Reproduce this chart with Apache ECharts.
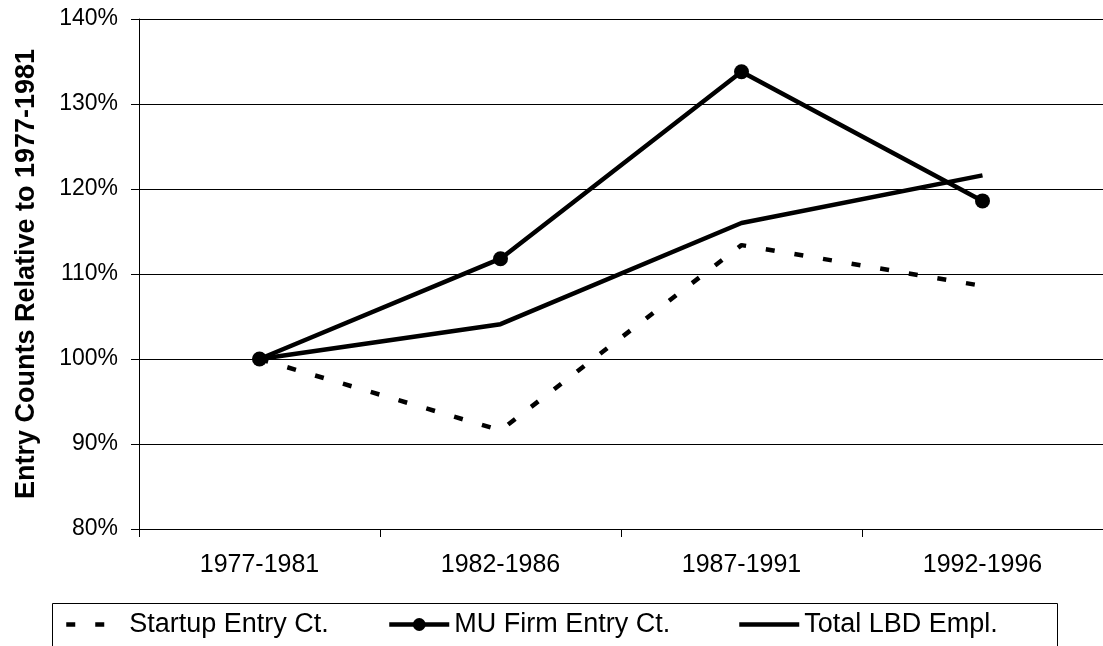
<!DOCTYPE html>
<html lang="en">
<head>
    <meta charset="UTF-8">
    <title>entry counts</title>
    <script src="https://cdn.jsdelivr.net/npm/echarts/dist/echarts.min.js"></script>
    <style>
        html, body { margin: 0; padding: 0; background: #fff; }
    </style>
</head>
<body>
    <div id="main" style="width: 1103px;height:646px;"></div>
    <script type="text/javascript">
        // data (percent of 1977-1981)
        var periods = ['1977-1981', '1982-1986', '1987-1991', '1992-1996'];
        var startupEntry = [100, 91.6, 113.4, 108.6];
        var muFirmEntry = [100, 111.8, 133.8, 118.6];
        var totalLbdEmpl = [100, 104.1, 116.0, 121.6];

        var font = "'Liberation Sans', Arial, sans-serif";

        var myChart = echarts.init(document.getElementById('main'));

        // one legend per item so each sits where the original puts it
        function legendAt(name, left, width, hideSymbol) {
            var item = { name: name };
            if (hideSymbol) {
                item.itemStyle = { opacity: 0 };
            }
            return {
                data: [item],
                left: left,
                top: 611,
                itemWidth: width,
                itemHeight: 16,
                padding: 0,
                lineStyle: { width: 4.5 },
                textStyle: {
                    fontFamily: font,
                    fontSize: 27,
                    color: '#000'
                }
            };
        }

        var option = {
            backgroundColor: '#fff',
            animation: false,
            grid: {
                left: 139,
                top: 19,
                width: 972,
                height: 510
            },
            legend: [
                legendAt('Startup Entry Ct.', 64, 58, true),
                legendAt('MU Firm Entry Ct.', 387, 60, false),
                legendAt('Total LBD Empl.', 737, 60, true)
            ],
            graphic: [{
                type: 'rect',
                shape: { x: 52.5, y: 603.5, width: 1005, height: 60 },
                style: { fill: 'none', stroke: '#000', lineWidth: 1 }
            }],
            xAxis: {
                type: 'category',
                data: periods,
                boundaryGap: true,
                axisLine: { lineStyle: { color: '#000', width: 1 } },
                axisTick: { show: true, length: 8, lineStyle: { color: '#000' } },
                axisLabel: {
                    fontFamily: font,
                    fontSize: 25,
                    color: '#000',
                    margin: 24
                },
                splitLine: { show: false }
            },
            yAxis: {
                type: 'value',
                min: 80,
                max: 140,
                interval: 10,
                name: 'Entry Counts Relative to 1977-1981',
                nameLocation: 'middle',
                nameGap: 99,
                nameTextStyle: {
                    fontFamily: font,
                    fontSize: 27,
                    fontWeight: 'bold',
                    color: '#000'
                },
                axisLine: { show: true, lineStyle: { color: '#000', width: 1 } },
                axisTick: { show: true, length: 8, lineStyle: { color: '#000' } },
                axisLabel: {
                    formatter: '{value}%',
                    fontFamily: font,
                    fontSize: 23,
                    color: '#000',
                    margin: 21
                },
                splitLine: { show: true, lineStyle: { color: '#000', width: 1 } }
            },
            series: [{
                name: 'Startup Entry Ct.',
                type: 'line',
                data: startupEntry,
                symbol: 'none',
                lineStyle: { color: '#000', width: 4.5, type: [9, 20] },
                itemStyle: { color: '#000' }
            }, {
                name: 'MU Firm Entry Ct.',
                type: 'line',
                data: muFirmEntry,
                symbol: 'circle',
                symbolSize: 15,
                lineStyle: { color: '#000', width: 4.5 },
                itemStyle: { color: '#000' }
            }, {
                name: 'Total LBD Empl.',
                type: 'line',
                data: totalLbdEmpl,
                symbol: 'none',
                lineStyle: { color: '#000', width: 4.5 },
                itemStyle: { color: '#000' }
            }]
        };

        myChart.setOption(option);
    </script>
</body>
</html>
